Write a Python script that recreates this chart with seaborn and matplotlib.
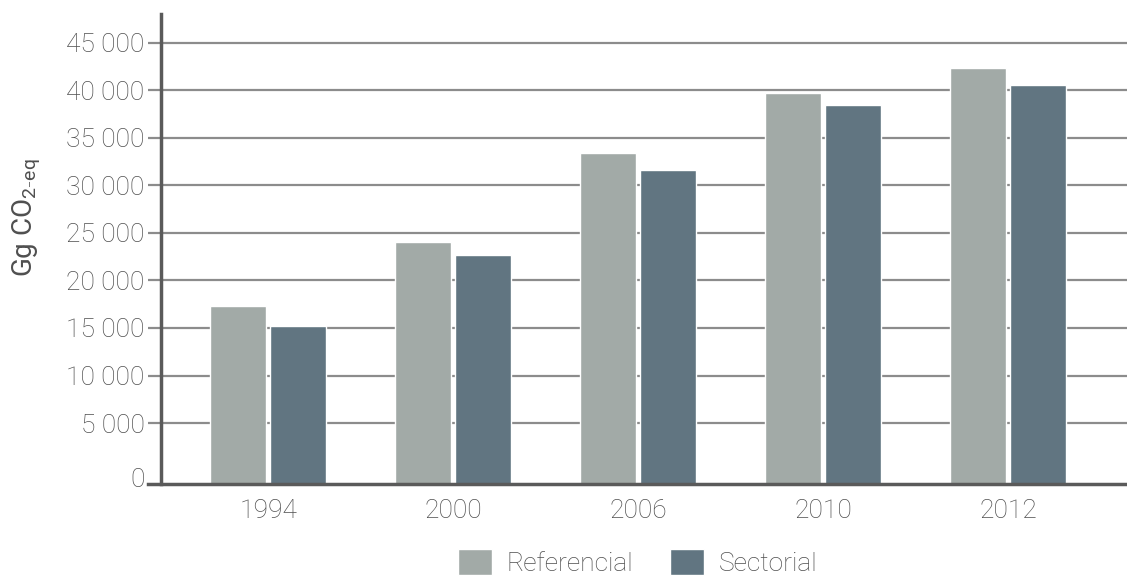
import pandas as pd
import matplotlib
matplotlib.use('Agg')
import matplotlib.pyplot as plt
import seaborn as sns

# Datos (Gg CO2-eq)
anios = ['1994', '2000', '2006', '2010', '2012']
referencial = [17300, 24050, 33400, 39700, 42400]
sectorial = [15200, 22700, 31600, 38500, 40600]
series = ['Referencial', 'Sectorial']
colores = ['#a2aaa7', '#617581']
yticks = [0, 5000, 10000, 15000, 20000, 25000, 30000, 35000, 40000, 45000]

df = pd.DataFrame({
    'anio': anios * 2,
    'valor': referencial + sectorial,
    'serie': [series[0]] * len(anios) + [series[1]] * len(anios),
})

sns.set_theme(style='white')
plt.rcParams['font.family'] = ['Roboto', 'DejaVu Sans']
plt.rcParams['font.weight'] = 'light'
txt_color = '#4f4f4f'
fs = 19

fig = plt.figure(figsize=(11.27, 5.76), dpi=100)
ax = fig.add_axes([148 / 1127, 1 - 484 / 576, 979 / 1127, 470 / 576])

sns.barplot(data=df, x='anio', y='valor', hue='serie', palette=colores,
            width=0.65, gap=0.08, saturation=1, ax=ax, zorder=3)

# el eje parte un poco bajo el cero, las barras llegan hasta la base
y0 = -1420
for p in ax.patches:
    h = p.get_height()
    p.set_y(y0)
    p.set_height(h - y0)

ax.set_ylim(y0, 48050)
ax.set_xlim(-0.649, 4.643)

# grilla horizontal (sin linea en el cero)
ax.grid(False)
for v in yticks[1:]:
    ax.axhline(v, color='#8c8c8c', linewidth=1.6, zorder=1)
ax.set_yticks([y0 + 700] + yticks[1:])
ax.set_yticklabels(['0'] + [f'{v:,}'.replace(',', ' ') for v in yticks[1:]])

ax.tick_params(axis='y', length=0, pad=12, labelsize=fs, labelcolor=txt_color)
ax.tick_params(axis='x', length=0, pad=11, labelsize=fs, labelcolor=txt_color)

for s in ['top', 'right']:
    ax.spines[s].set_visible(False)
ax.spines['left'].set_position(('data', -0.578))
ax.spines['left'].set_color('#5a5a5a')
ax.spines['left'].set_linewidth(2.5)
ax.spines['bottom'].set_color('#5a5a5a')
ax.spines['bottom'].set_linewidth(2.5)
for s in ax.spines.values():
    s.set_zorder(4)

ax.set_xlabel('')
ax.set_ylabel(r'Gg CO$_{\mathregular{2\text{-}eq}}$', fontsize=20, color=txt_color)
ax.yaxis.set_label_coords(-0.107, 0.566)

sns.move_legend(ax, 'center', bbox_to_anchor=(0.5, -0.166), ncol=2, frameon=False,
                title=None, fontsize=fs, handlelength=1.3, handleheight=1.15,
                handletextpad=0.54, columnspacing=1.4, labelcolor=txt_color)

fig.savefig('out.png', dpi=100)
